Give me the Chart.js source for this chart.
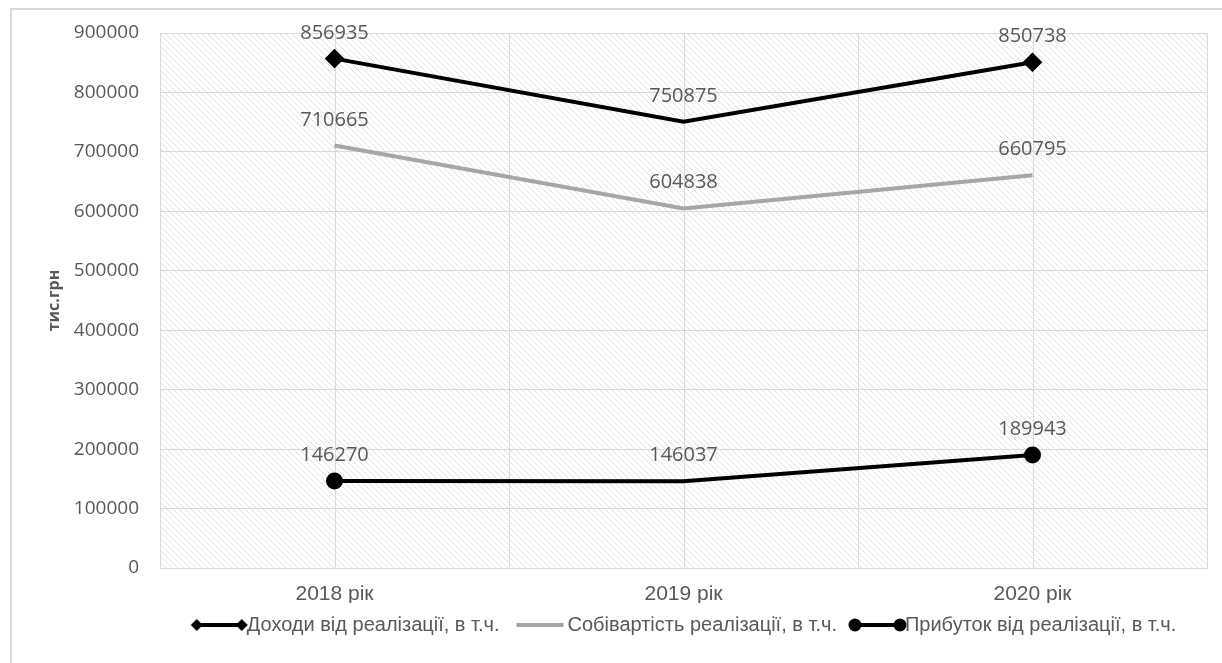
<!DOCTYPE html>
<html>
<head>
<meta charset="utf-8">
<script src="https://cdn.jsdelivr.net/npm/chart.js@4.4.0/dist/chart.umd.min.js"></script>
<style>
    html, body { margin: 0; padding: 0; background: #fff; overflow: hidden; }
    #frame { position: absolute; left: 10px; top: 8px; width: 1240px; height: 700px; border: 2px solid #d9d9d9; box-sizing: border-box; }
    #wrap { position: absolute; left: 0; top: 0; width: 1222px; height: 663px; }
</style>
</head>
<body>
<div id="frame"></div>
<div id="wrap"><canvas id="chart" width="1222" height="663"></canvas></div>
<script>
// Chart data
const years = ['2018 рік', '2019 рік', '2020 рік'];
const revenue = [856935, 750875, 850738];
const cost = [710665, 604838, 660795];
const profit = [146270, 146037, 189943];
const seriesNames = [
    'Доходи від реалізації, в т.ч.',
    'Собівартість реалізації, в т.ч.',
    'Прибуток від реалізації, в т.ч.'
];
const yTicks = [0, 100000, 200000, 300000, 400000, 500000, 600000, 700000, 800000, 900000];

const textColor = '#595959';
const gridColor = '#d9d9d9';

// Hatched plot background
function makeHatch() {
    const c = document.createElement('canvas');
    c.width = 6;
    c.height = 6;
    const g = c.getContext('2d');
    g.strokeStyle = '#dfdfdf';
    g.lineWidth = 1;
    g.beginPath();
    g.moveTo(-1, -1); g.lineTo(7, 7);
    g.moveTo(-1, 5); g.lineTo(1, 7);
    g.moveTo(5, -1); g.lineTo(7, 1);
    g.stroke();
    return c;
}

// Legend marker: line with optional end markers, drawn shifted right
// so that it ends where the legend text begins
function makeMarker(color, shape) {
    const c = document.createElement('canvas');
    c.width = 70;
    c.height = 16;
    const g = c.getContext('2d');
    g.strokeStyle = color;
    g.fillStyle = color;
    g.lineWidth = 4;
    g.beginPath();
    g.moveTo(17, 8); g.lineTo(64, 8);
    g.stroke();
    [18, 63].forEach(x => {
        if (shape === 'diamond') {
            g.beginPath();
            g.moveTo(x, 2); g.lineTo(x + 6, 8); g.lineTo(x, 14); g.lineTo(x - 6, 8);
            g.closePath();
            g.fill();
        } else if (shape === 'circle') {
            g.beginPath();
            g.arc(x, 8, 6.5, 0, Math.PI * 2);
            g.fill();
        }
    });
    return c;
}

const markers = [
    makeMarker('#000000', 'diamond'),
    makeMarker('#a6a6a6', 'none'),
    makeMarker('#000000', 'circle')
];

const plotDecor = {
    id: 'plotDecor',
    afterLayout(chart) {
        // centre the legend under the plot area, not the whole canvas
        chart.legend.left = chart.chartArea.left;
        chart.legend.right = chart.chartArea.right;
    },
    beforeDraw(chart) {
        const { ctx, chartArea } = chart;
        ctx.save();
        ctx.fillStyle = ctx.createPattern(makeHatch(), 'repeat');
        ctx.fillRect(chartArea.left, chartArea.top, chartArea.right - chartArea.left, chartArea.bottom - chartArea.top);
        ctx.restore();
    },
    beforeDatasetsDraw(chart) {
        // vertical lines through category centres
        const { ctx, chartArea } = chart;
        const xScale = chart.scales.x;
        ctx.save();
        ctx.strokeStyle = gridColor;
        ctx.lineWidth = 1;
        years.forEach((_, i) => {
            const x = Math.round(xScale.getPixelForTick(i)) + 0.5;
            ctx.beginPath();
            ctx.moveTo(x, chartArea.top);
            ctx.lineTo(x, chartArea.bottom);
            ctx.stroke();
        });
        ctx.restore();
    },
    afterDatasetsDraw(chart) {
        // value labels above points
        const { ctx } = chart;
        ctx.save();
        ctx.font = '20px "Open Sans"';
        ctx.fillStyle = textColor;
        ctx.textAlign = 'center';
        ctx.textBaseline = 'alphabetic';
        chart.data.datasets.forEach((ds, di) => {
            chart.getDatasetMeta(di).data.forEach((pt, i) => {
                ctx.fillText(String(ds.data[i]), pt.x, pt.y - 20);
            });
        });
        ctx.restore();
    }
};

new Chart(document.getElementById('chart'), {
    type: 'line',
    data: {
        labels: years,
        datasets: [
            {
                label: seriesNames[0],
                data: revenue,
                borderColor: '#000000',
                backgroundColor: '#000000',
                borderWidth: 4,
                pointStyle: 'rectRot',
                pointRadius: [7, 0, 7],
                tension: 0
            },
            {
                label: seriesNames[1],
                data: cost,
                borderColor: '#a6a6a6',
                backgroundColor: '#a6a6a6',
                borderWidth: 4,
                pointRadius: 0,
                tension: 0
            },
            {
                label: seriesNames[2],
                data: profit,
                borderColor: '#000000',
                backgroundColor: '#000000',
                borderWidth: 4,
                pointStyle: 'circle',
                pointRadius: [6.5, 0, 6.5],
                tension: 0
            }
        ]
    },
    options: {
        responsive: false,
        animation: false,
        layout: { padding: { left: 0, top: 33, right: 15, bottom: 18 } },
        scales: {
            x: {
                offset: true,
                grid: { offset: true, color: gridColor, drawTicks: false },
                border: { color: gridColor },
                ticks: {
                    padding: 14,
                    color: textColor,
                    font: { family: '"Liberation Sans"', size: 21 }
                },
                afterFit(scale) { scale.height = 35; }
            },
            y: {
                min: 0,
                max: 900000,
                afterBuildTicks(scale) { scale.ticks = yTicks.map(v => ({ value: v })); },
                grid: { color: gridColor, drawTicks: false },
                border: { color: gridColor },
                ticks: {
                    padding: 21,
                    color: textColor,
                    font: { family: '"Open Sans"', size: 19 },
                    callback: v => String(v)
                },
                title: {
                    display: true,
                    text: 'тис.грн',
                    color: textColor,
                    font: { family: '"Open Sans"', size: 16, weight: 'bold' },
                    padding: { top: 45, bottom: 0 }
                },
                afterFit(scale) { scale.width = 160; }
            }
        },
        plugins: {
            legend: {
                position: 'bottom',
                labels: {
                    usePointStyle: true,
                    pointStyleWidth: 46,
                    padding: 12,
                    color: textColor,
                    font: { family: '"Liberation Sans"', size: 20 },
                    generateLabels(chart) {
                        return chart.data.datasets.map((ds, i) => ({
                            text: ds.label,
                            pointStyle: markers[i],
                            fillStyle: ds.borderColor,
                            strokeStyle: ds.borderColor,
                            lineWidth: 0,
                            fontColor: textColor,
                            hidden: false,
                            datasetIndex: i
                        }));
                    }
                }
            },
            tooltip: { enabled: false }
        }
    },
    plugins: [plotDecor]
});
</script>
</body>
</html>
